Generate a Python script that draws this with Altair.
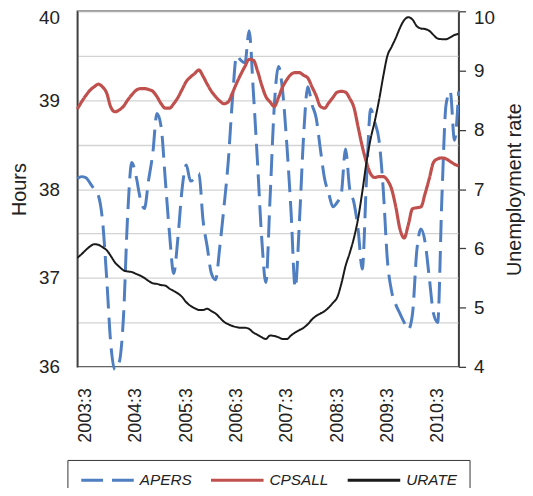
import altair as alt
import pandas as pd

# Monthly observations, 2003:1 ... 2010:8 (index 0..91)
months = list(range(92))

apers = [38.12, 38.14, 38.13, 38.07, 38.00, 37.93, 37.65, 37.00, 36.25, 35.97,
         36.05, 36.55, 37.70, 38.30, 38.15, 37.90, 37.78, 38.10, 38.40, 38.85,
         38.70, 38.10, 37.50, 37.05, 37.45, 38.00, 38.27, 38.09, 38.12, 38.18,
         37.65, 37.35, 37.05, 36.98, 37.35, 37.80, 38.30, 39.00, 39.50, 39.45,
         39.42, 39.78, 39.10, 38.30, 37.45, 36.95, 37.90, 38.93, 39.38, 39.10,
         38.50, 37.75, 36.89, 37.63, 38.60, 39.15, 38.95, 38.80, 38.45, 38.12,
         37.95, 37.80, 37.85, 37.95, 38.45, 38.00, 37.85, 37.55, 37.10, 38.10,
         38.90, 38.75, 38.55, 38.00, 37.20, 36.85, 36.70, 36.60, 36.50, 36.42,
         36.60, 37.30, 37.55, 37.40, 37.00, 36.60, 36.50, 37.90, 38.95, 39.10,
         38.55, 39.10]

cpsall = [38.90, 38.98, 39.05, 39.11, 39.15, 39.18, 39.15, 39.08, 38.92, 38.87,
          38.89, 38.93, 39.00, 39.06, 39.11, 39.13, 39.13, 39.12, 39.10, 39.04,
          38.96, 38.91, 38.91, 38.96, 39.03, 39.12, 39.21, 39.26, 39.30, 39.34,
          39.27, 39.18, 39.10, 39.04, 38.99, 38.96, 38.98, 39.08, 39.19, 39.29,
          39.38, 39.46, 39.45, 39.33, 39.17, 39.04, 38.98, 38.93, 39.03, 39.15,
          39.23, 39.29, 39.31, 39.31, 39.28, 39.25, 39.15, 39.05, 38.93, 38.91,
          38.97, 39.03, 39.09, 39.10, 39.09, 39.02, 38.92, 38.70, 38.48, 38.30,
          38.17, 38.13, 38.14, 38.14, 38.10, 38.00, 37.80, 37.55, 37.45, 37.60,
          37.78, 37.79, 37.80, 37.95, 38.12, 38.30, 38.34, 38.35, 38.34, 38.31,
          38.28, 38.26]

urate = [5.84, 5.90, 5.97, 6.03, 6.07, 6.06, 6.02, 5.97, 5.87, 5.76,
         5.69, 5.63, 5.61, 5.60, 5.57, 5.54, 5.50, 5.45, 5.41, 5.40,
         5.38, 5.37, 5.32, 5.28, 5.24, 5.18, 5.09, 5.03, 4.99, 4.96,
         4.96, 4.98, 4.94, 4.90, 4.83, 4.76, 4.72, 4.69, 4.67, 4.66,
         4.66, 4.64, 4.58, 4.54, 4.50, 4.47, 4.53, 4.52, 4.50, 4.47,
         4.47, 4.53, 4.58, 4.62, 4.66, 4.72, 4.80, 4.86, 4.90, 4.94,
         5.00, 5.08, 5.17, 5.40, 5.70, 5.92, 6.17, 6.50, 6.95, 7.45,
         7.85, 8.15, 8.50, 8.90, 9.25, 9.40, 9.55, 9.72, 9.85, 9.90,
         9.86, 9.75, 9.71, 9.70, 9.67, 9.60, 9.54, 9.53, 9.53, 9.56,
         9.60, 9.62]

series_names = ["APERS", "CPSALL", "URATE"]
series_colors = ["#4F7EC1", "#C0504D", "#1A1A1A"]
series_dash = [[22, 9], [1, 0], [1, 0]]
x_tick_months = [2, 14, 26, 38, 50, 62, 74, 86]
hours_ticks = [36, 36.5, 37, 37.5, 38, 38.5, 39, 39.5, 40]
urate_ticks = [4, 5, 6, 7, 8, 9, 10]

rows = []
for name, vals in zip(series_names, [apers, cpsall, urate]):
    for t, v in zip(months, vals):
        rows.append({"t": t, "series": name, "value": v})
df = pd.DataFrame(rows)

FONT = "Liberation Sans"
TXT = "#222222"

leg = alt.Legend(
    title=None, orient="none", legendX=-10, legendY=453,
    direction="horizontal", symbolType="M-4,0L4,0", symbolSize=176,
    symbolStrokeWidth=3, symbolOffset=20, labelOffset=24,
    labelFont=FONT, labelFontSize=15.5, labelFontStyle="italic",
    labelColor=TXT, columnPadding=12, padding=12, strokeColor="#333333",
)

x_enc = alt.X(
    "t:Q",
    scale=alt.Scale(domain=[0, 91], nice=False, zero=False),
    axis=alt.Axis(
        values=x_tick_months,
        labelExpr="(2003 + floor(datum.value / 12)) + ':3'",
        labelAngle=270, labelFontSize=18, labelPadding=21, labelColor=TXT,
        ticks=False, domain=False, grid=False, title=None,
    ),
)
color_enc = alt.Color("series:N", scale=alt.Scale(domain=series_names, range=series_colors), legend=leg)
dash_enc = alt.StrokeDash("series:N", scale=alt.Scale(domain=series_names, range=series_dash), legend=leg)

left_axis = alt.Axis(
    values=hours_ticks,
    labelExpr="datum.value % 1 == 0 ? format(datum.value, 'd') : ''",
    labelFontSize=19, labelPadding=18, labelColor=TXT,
    labelOffset={"condition": {"test": "datum.value == 40", "value": 6}, "value": 0},
    ticks=False, domain=True, domainColor="#404040", domainWidth=1.5,
    grid=True, gridColor="#D3D3D3", gridWidth=1.3,
    title="Hours", titleFontSize=20, titleFontWeight="normal", titleColor=TXT, titlePadding=9,
)
left_scale = alt.Scale(domain=[36, 40], nice=False, zero=False)

right_axis = alt.Axis(
    values=urate_ticks, orient="right",
    labelFontSize=19, labelPadding=8, labelColor=TXT,
    labelOffset={"condition": {"test": "datum.value == 10", "value": 6}, "value": 0},
    ticks=True, tickSize=7, tickColor="#404040", tickWidth=1.3,
    domain=True, domainColor="#404040", domainWidth=1.5, grid=False,
    title="Unemployment rate", titleFontSize=20, titleFontWeight="normal", titleColor=TXT,
    titleAngle=270, titleBaseline="top", titlePadding=10,
)
right_scale = alt.Scale(domain=[4, 10], nice=False, zero=False)

base = alt.Chart(df)

apers_layer = base.transform_filter("datum.series == 'APERS'").mark_line(
    strokeWidth=3, interpolate="monotone"
).encode(x=x_enc, y=alt.Y("value:Q", scale=left_scale, axis=left_axis), color=color_enc, strokeDash=dash_enc)

cps_layer = base.transform_filter("datum.series == 'CPSALL'").mark_line(
    strokeWidth=3.2, interpolate="monotone"
).encode(x=x_enc, y=alt.Y("value:Q", scale=left_scale, axis=left_axis), color=color_enc, strokeDash=dash_enc)

urate_layer = base.transform_filter("datum.series == 'URATE'").mark_line(
    strokeWidth=2, interpolate="monotone"
).encode(x=x_enc, y=alt.Y("value:Q", scale=right_scale, axis=right_axis), color=color_enc, strokeDash=dash_enc)

chart = alt.layer(alt.layer(apers_layer, cps_layer), urate_layer).resolve_scale(
    y="independent"
).properties(
    width=385, height=359,
    padding={"left": 70, "top": 1, "right": 67, "bottom": 120},
    autosize=alt.AutoSizeParams(type="none"),
).configure(font=FONT).configure_view(stroke="#404040", strokeWidth=1.5)

chart.save("out.html", embed_options={"renderer": "svg", "actions": False})
